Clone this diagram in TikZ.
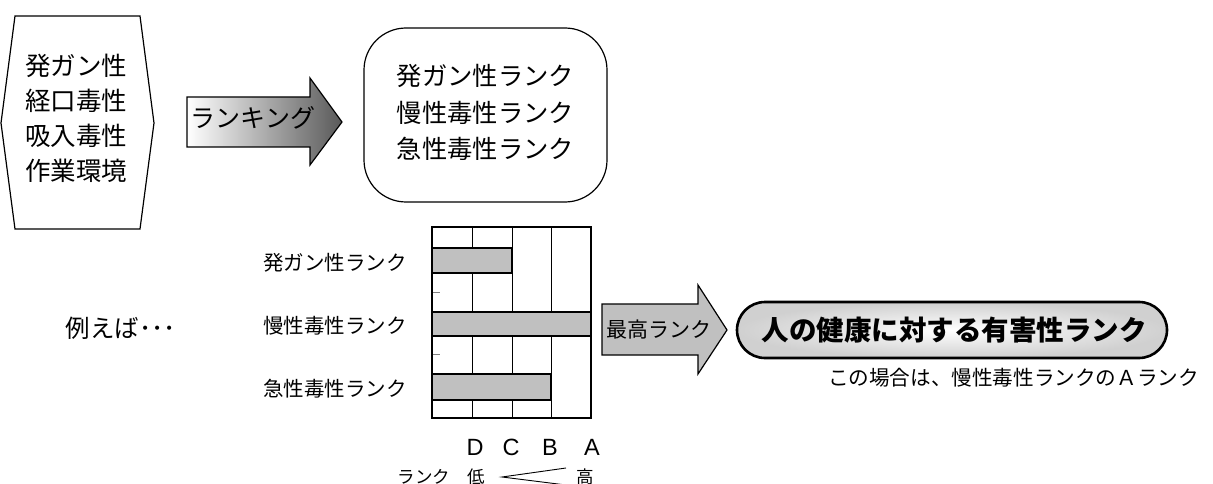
\documentclass[tikz,border=0pt]{standalone}
\usepackage{fontspec}
\newfontfamily\jp{Noto Sans CJK JP}
\newfontfamily\lat{Liberation Sans}
\definecolor{barGray}{RGB}{192,192,192}
\definecolor{pillGray}{RGB}{228,228,228}
\begin{document}
\begin{tikzpicture}[x=1pt,y=-1pt,
  outline/.style={draw=black,line width=1.2pt},
  barbox/.style={draw=black,line width=1.6pt,fill=barGray},
  grid/.style={draw=black,line width=1pt},
  tickmark/.style={draw=gray,line width=0.8pt},
  bigtext/.style={font=\jp\fontsize{25.5}{35}\selectfont,align=center,inner sep=0pt},
  boxtext/.style={font=\jp\fontsize{25.3}{36.5}\selectfont,align=center,inner sep=0pt},
  catlabel/.style={font=\jp\fontsize{20.5}{23}\selectfont,anchor=east,inner sep=0pt},
  rankletter/.style={font=\lat\fontsize{23.5}{26}\selectfont,inner sep=0pt},
  smalllabel/.style={font=\jp\fontsize{17.5}{20}\selectfont,inner sep=0pt}
]
\useasboundingbox (0,0) rectangle (1213,484);

% left hexagon
\draw[outline] (15,16) -- (140,16) -- (154,123) -- (140,229) -- (15,229) -- (1,123) -- cycle;
\node[bigtext] (factors) at (76,118.5) {発ガン性\\経口毒性\\吸入毒性\\作業環境};

% ranking arrow
\path[left color=white,right color=black!65,draw=black,line width=1.2pt]
  (187,97) -- (310,97) -- (310,78) -- (342,122) -- (310,165) -- (310,147) -- (187,147) -- cycle;
\node[font=\jp\fontsize{25}{28}\selectfont,inner sep=0pt] (ranking) at (253,118) {ランキング};

% rounded box
\draw[outline,rounded corners=42pt] (364,28) rectangle (607,202);
\node[boxtext] (ranks) at (485.5,112.5) {発ガン性ランク\\慢性毒性ランク\\急性毒性ランク};

% chart grid
\foreach \gx in {472,512,551} \draw[grid] (\gx,227) -- (\gx,418);
\draw[tickmark] (432,292) -- (440,292);
\draw[tickmark] (432,354) -- (440,354);
\draw[barbox] (432,248) rectangle (512,273);
\draw[barbox] (432,312) rectangle (591,336);
\draw[barbox] (432,374) rectangle (551,400);
\draw[draw=black,line width=1.4pt] (432,227) rectangle (591,418);

% category labels
\node[catlabel] (lcarc) at (407,263) {発ガン性ランク};
\node[catlabel] (lchron) at (407,326) {慢性毒性ランク};
\node[catlabel] (lacute) at (407,389) {急性毒性ランク};

% rank letters
\node[rankletter] (rD) at (475,447) {D};
\node[rankletter] (rC) at (511,447) {C};
\node[rankletter] (rB) at (550,447) {B};
\node[rankletter] (rA) at (592,447) {A};

\node[smalllabel] (rlabel) at (424,477) {ランク};
\node[smalllabel] (low) at (476,477) {低};
\node[smalllabel] (high) at (585,477) {高};
\coordinate (wapex) at (502,477);
\coordinate (wtop) at (566,468);
\coordinate (wbot) at (566,485);
\draw[line width=0.9pt] (wtop) -- (wapex) -- (wbot);

% example text
\node[font=\jp\fontsize{24.5}{28}\selectfont,inner sep=0pt] (example) at (121,328) {例えば･･･};

% max rank arrow
\path[fill=barGray,draw=black,line width=1.2pt]
  (602,304) -- (698,304) -- (698,285) -- (727,330) -- (698,374) -- (698,355) -- (602,355) -- cycle;
\node[font=\jp\fontsize{21}{24}\selectfont,inner sep=0pt] (maxrank) at (659,330) {最高ランク};

% pill
\draw[draw=black,line width=2.6pt,inner color=white,outer color=pillGray!80!gray,rounded corners=28pt] (737,302) rectangle (1167,358);
\node[font=\jp\bfseries\fontsize{27.5}{30}\selectfont,inner sep=0pt] (hazard) at (954,330) {人の健康に対する有害性ランク};

% note
\node[font=\jp\fontsize{20.6}{23}\selectfont,inner sep=0pt] (note) at (1013.5,378) {この場合は、慢性毒性ランクのＡランク};
\end{tikzpicture}
\end{document}
